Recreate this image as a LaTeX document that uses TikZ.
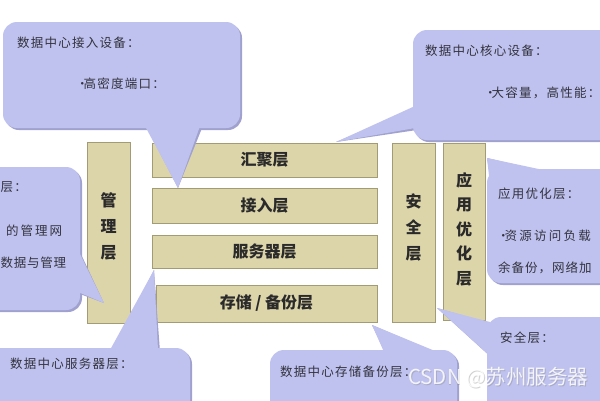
\documentclass[tikz,border=0pt]{standalone}
\usepackage{fontspec}
\setmainfont{Noto Sans CJK SC}
\definecolor{tanfill}{HTML}{DDD5AA}
\definecolor{tanedge}{HTML}{A39B74}
\definecolor{lav}{HTML}{BFC2EE}
\definecolor{lavdark}{HTML}{A0A1CF}
\definecolor{ink}{HTML}{2A2A2A}
\definecolor{notecol}{HTML}{33333F}
\newcommand{\blt}{•\hspace{-5pt}}
\begin{document}
\begin{tikzpicture}[x=1pt,y=-1pt,
  bar/.style={fill=tanfill, draw=tanedge, line width=0.8pt, inner sep=0pt},
  lbl/.style={font=\fontsize{16}{18}\selectfont\bfseries, text=ink, inner sep=0pt},
  vlbl/.style={font=\fontsize{16}{26}\selectfont\bfseries, text=ink, inner sep=0pt, align=center},
  note/.style={font=\fontsize{12.5}{14}\selectfont\addfontfeature{LetterSpace=10}, text=notecol, anchor=west, inner sep=0pt},
  body/.style={fill=lav, rounded corners=14pt},
  bodyshadow/.style={fill=lavdark, rounded corners=14pt},
]
\clip (0,0) rectangle (600,400);
\fill[white] (0,0) rectangle (600,400);

% ---- layer blocks ----
\node[bar, minimum width=43pt, minimum height=181pt] (mgmt) at (108.5,232.5) {};
\node[bar, minimum width=225pt, minimum height=34pt] (agg) at (264.5,160) {};
\node[bar, minimum width=225pt, minimum height=35pt] (acc) at (264.5,205.5) {};
\node[bar, minimum width=225pt, minimum height=33pt] (srv) at (264.5,252) {};
\node[bar, minimum width=221pt, minimum height=37pt] (sto) at (266.5,303.5) {};
\node[bar, minimum width=43pt, minimum height=179pt] (sec) at (413.5,232.5) {};
\node[bar, minimum width=42pt, minimum height=177pt] (app) at (464,231.5) {};

\node[lbl] (aggT) at (agg.center) {汇聚层};
\node[lbl] (accT) at (acc.center) {接入层};
\node[lbl] (srvT) at (srv.center) {服务器层};
\node[lbl] (stoT) at (sto.center) {存储 / 备份层};
\node[vlbl] (mgmtT) at (108.5,226) {管\\理\\层};
\node[vlbl] (secT) at (413.5,227) {安\\全\\层};
\node[vlbl, font=\fontsize{16}{24.5}\selectfont\bfseries] (appT) at (464,229) {应\\用\\优\\化\\层};

% ---- callout 1: access devices (top left) ----
\coordinate (c1tip) at (178,188);
\begin{scope}[shift={(2,2)}]
\fill[bodyshadow] (3,22) rectangle (240,128);
\fill[lavdark] (145,126) -- (c1tip) -- (200,126) -- cycle;
\end{scope}
\fill[body] (3,22) rectangle (240,128);
\fill[lav] (145,126) -- (c1tip) -- (200,126) -- cycle;
\node[note] (c1a) at (17,43) {数据中心接入设备：};
\node[note] (c1b) at (76,84) {\blt 高密度端口：};

% ---- callout 2: core devices (top right) ----
\coordinate (c2tip) at (336,142);
\begin{scope}[shift={(2,2)}]
\fill[bodyshadow] (413,30) rectangle (650,140);
\fill[lavdark] (415,106) -- (c2tip) -- (415,128) -- cycle;
\end{scope}
\fill[body] (413,30) rectangle (650,140);
\fill[lav] (415,106) -- (c2tip) -- (415,128) -- cycle;
\node[note] (c2a) at (425,51) {数据中心核心设备：};
\node[note] (c2b) at (484,93) {\blt 大容量，高性能：};

% ---- callout 3: application optimisation (right middle) ----
\coordinate (c3tip) at (487,158);
\begin{scope}[shift={(2,2)}]
\fill[bodyshadow] (487,169) rectangle (650,283);
\fill[lavdark] (490,185) -- (c3tip) -- (548,171) -- cycle;
\end{scope}
\fill[body] (487,169) rectangle (650,283);
\fill[lav] (490,185) -- (c3tip) -- (548,171) -- cycle;
\node[note] (c3a) at (498,194) {应用优化层：};
\node[note, font=\fontsize{12.5}{14}\selectfont\addfontfeature{LetterSpace=18}] (c3b) at (497,236) {\blt 资源访问负载};
\node[note, font=\fontsize{12.5}{14}\selectfont\addfontfeature{LetterSpace=8}] (c3c) at (498,268) {余备份，网络加};

% ---- callout 4: management (left middle) ----
\coordinate (c4tip) at (104,303);
\begin{scope}[shift={(2,2)}]
\fill[bodyshadow] (-40,167) rectangle (80,310);
\fill[lavdark] (78,250) -- (c4tip) -- (78,292) -- cycle;
\end{scope}
\fill[body] (-40,167) rectangle (80,310);
\fill[lav] (78,250) -- (c4tip) -- (78,292) -- cycle;
\node[note] (c4a) at (0.5,187) {层：};
\node[note, font=\fontsize{12.5}{14}\selectfont\addfontfeature{LetterSpace=16}] (c4b) at (6,231) {的管理网};
\node[note, font=\fontsize{12.5}{14}\selectfont\addfontfeature{LetterSpace=6}] (c4c) at (0.5,263) {数据与管理};

% ---- callout 5: server layer (bottom left) ----
\coordinate (c5tip) at (154,270);
\begin{scope}[shift={(2,2)}]
\fill[bodyshadow] (-30,348) rectangle (190,440);
\fill[lavdark] (110,350) -- (c5tip) -- (158,350) -- cycle;
\end{scope}
\fill[body] (-30,348) rectangle (190,440);
\fill[lav] (110,350) -- (c5tip) -- (158,350) -- cycle;
\node[note] (c5a) at (10,364) {数据中心服务器层：};

% ---- callout 6: storage/backup (bottom middle) ----
\coordinate (c6tip) at (372,325);
\begin{scope}[shift={(2,2)}]
\fill[bodyshadow] (270,350) rectangle (457,440);
\fill[lavdark] (384,352) -- (c6tip) -- (452,358) -- cycle;
\end{scope}
\fill[body] (270,350) rectangle (457,440);
\fill[lav] (384,352) -- (c6tip) -- (452,358) -- cycle;
\node[note] (c6a) at (280,372) {数据中心存储备份层：};

% ---- callout 7: security (bottom right) ----
\coordinate (c7tip) at (437,308);
\begin{scope}[shift={(2,2)}]
\fill[bodyshadow] (487,317) rectangle (650,440);
\fill[lavdark] (490,322) -- (c7tip) -- (490,356) -- cycle;
\end{scope}
\fill[body] (487,317) rectangle (650,440);
\fill[lav] (490,322) -- (c7tip) -- (490,356) -- cycle;
\node[note] (c7a) at (500,338) {安全层：};

% ---- watermark ----
\node[anchor=west, inner sep=0pt, font=\fontsize{20.5}{22}\selectfont, text=gray, opacity=0.35] (wm2) at (408.8,378.8) {CSDN @苏州服务器};
\node[anchor=west, inner sep=0pt, font=\fontsize{20.5}{22}\selectfont, text=white, opacity=0.85] (wm) at (408,378) {CSDN @苏州服务器};
\end{tikzpicture}
\end{document}
